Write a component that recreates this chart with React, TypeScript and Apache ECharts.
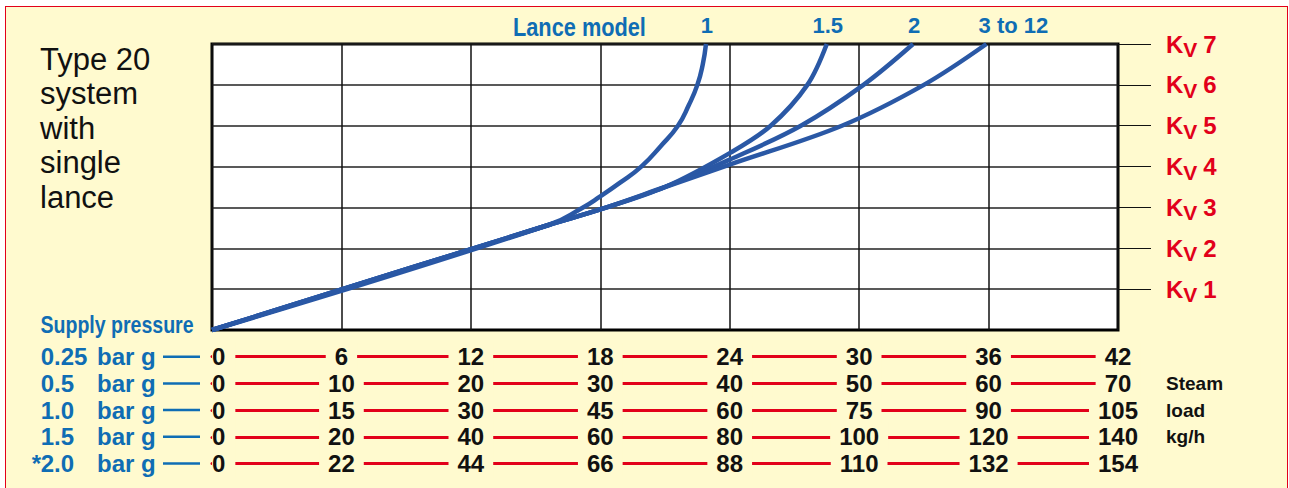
import React, { useEffect, useRef } from 'react';
import * as echarts from 'echarts';

// ---------- data ----------
const TITLE_LINES = ['Type 20', 'system', 'with', 'single', 'lance'];
const KV_TICKS = [1, 2, 3, 4, 5, 6, 7];
const PRESSURES = ['0.25', '0.5', '1.0', '1.5', '*2.0'];
const PRESSURE_UNIT = 'bar g';
const LOAD_025 = [0, 6, 12, 18, 24, 30, 36, 42];
const LOAD_05 = [0, 10, 20, 30, 40, 50, 60, 70];
const LOAD_10 = [0, 15, 30, 45, 60, 75, 90, 105];
const LOAD_15 = [0, 20, 40, 60, 80, 100, 120, 140];
const LOAD_20 = [0, 22, 44, 66, 88, 110, 132, 154];
const LOAD_ROWS = [LOAD_025, LOAD_05, LOAD_10, LOAD_15, LOAD_20];
const UNIT_LINES = ['Steam', 'load', 'kg/h'];

const LANCE_NAMES = ['1', '1.5', '2', '3 to 12'];
// [steam load kg/h at 0.25 bar g, Kv]
const LANCE_1 = [[0, 0], [15.6, 2.57], [17.2, 3], [18, 3.27], [18.9, 3.6], [19.9, 4], [20.8, 4.5], [21.6, 5], [22.1, 5.5], [22.5, 6], [22.75, 6.5], [22.9, 7]];
const LANCE_15 = [[0, 0], [15.6, 2.57], [18, 2.95], [21, 3.5], [24, 4.33], [25.9, 5], [27.6, 6], [28.5, 7]];
const LANCE_2 = [[0, 0], [15.6, 2.57], [18, 2.95], [21, 3.5], [24, 4.17], [27.3, 5], [30.2, 6], [32.5, 7]];
const LANCE_3_12 = [[0, 0], [15.6, 2.57], [18, 2.95], [21, 3.5], [24, 4.05], [29.2, 5], [33, 6], [35.9, 7]];
const LANCES = [LANCE_1, LANCE_15, LANCE_2, LANCE_3_12];

// ---------- style ----------
const BG = '#FFFACF';
const RED = '#E2001A';
const TEXT_BLUE = '#0F6DB4';
const LINE_BLUE = '#2A58A5';
const SANS = "'Liberation Sans', Arial, Helvetica, sans-serif";

const GRID_LEFT = 212;
const GRID_RIGHT_X = 1118;
const GRID_TOP = 44;
const GRID_BOTTOM_Y = 330;
const ROW_GAP = 26.7;

export default function App() {
  const ref = useRef<HTMLDivElement>(null);

  useEffect(() => {
    if (!ref.current) return;
    const chart = echarts.init(ref.current, undefined, { renderer: 'svg' });

    const numFont = { fontFamily: SANS, fontWeight: 'bold' as const, fontSize: 24, color: '#111' };

    const xAxes = LOAD_ROWS.map((ticks, i) => ({
      type: 'value',
      gridIndex: 0,
      position: 'bottom',
      offset: ROW_GAP * (i + 1),
      min: ticks[0],
      max: ticks[ticks.length - 1],
      interval: ticks[1] - ticks[0],
      axisLine: { show: true, onZero: false, lineStyle: { color: RED, width: 3 } },
      axisTick: { show: false },
      splitLine: { show: i === 0, lineStyle: { color: '#111', width: 1.5 } },
      axisLabel: {
        show: true,
        margin: 0,
        verticalAlign: 'middle',
        alignMinLabel: 'left',
        formatter: (v: number) => (v === ticks[0] ? `{z|${v}}` : `{n|${v}}`),
        rich: {
          z: { ...numFont, backgroundColor: BG, padding: [2, 10, 2, 0] },
          n: { ...numFont, backgroundColor: BG, padding: [2, 9, 2, 9] },
        },
      },
    }));

    const kvStyle = { fontFamily: SANS, fontWeight: 'bold' as const, color: RED };

    const series = LANCES.map((pts, i) => ({
      type: 'line',
      name: LANCE_NAMES[i],
      xAxisIndex: 0,
      yAxisIndex: 0,
      smooth: i === 0 ? 0.5 : 0.35,
      symbol: 'none',
      showSymbol: true,
      clip: false,
      lineStyle: { color: LINE_BLUE, width: 4.5 },
      itemStyle: { color: LINE_BLUE },
      z: 3,
      data: pts.map((p, j) =>
        j === pts.length - 1
          ? {
              value: p,
              symbol: 'circle',
              symbolSize: 0.1,
              label: {
                show: true,
                position: 'top',
                distance: 7,
                offset: [i === 3 ? 27 : 1, 0],
                formatter: LANCE_NAMES[i],
                fontFamily: SANS,
                fontWeight: 'bold',
                fontSize: 22,
                color: TEXT_BLUE,
              },
            }
          : p
      ),
    }));

    const graphic: any[] = [
      {
        type: 'text',
        x: 40,
        y: 42,
        style: {
          text: TITLE_LINES.join('\n'),
          fontFamily: SANS,
          fontSize: 31,
          lineHeight: 34.5,
          fill: '#111',
          align: 'left',
          verticalAlign: 'top',
        },
      },
      {
        type: 'text',
        x: 513,
        y: 27,
        scaleX: 0.87,
        style: {
          text: 'Lance model',
          fontFamily: SANS,
          fontWeight: 'bold',
          fontSize: 25,
          fill: TEXT_BLUE,
          align: 'left',
          verticalAlign: 'middle',
        },
      },
      {
        type: 'text',
        x: 40.5,
        y: 325,
        scaleX: 0.85,
        style: {
          text: 'Supply pressure',
          fontFamily: SANS,
          fontWeight: 'bold',
          fontSize: 23,
          fill: TEXT_BLUE,
          align: 'left',
          verticalAlign: 'middle',
        },
      },
      {
        type: 'text',
        x: 1166,
        y: GRID_BOTTOM_Y + ROW_GAP * 3,
        style: {
          text: UNIT_LINES.join('\n'),
          fontFamily: SANS,
          fontWeight: 'bold',
          fontSize: 19,
          lineHeight: ROW_GAP,
          fill: '#111',
          align: 'left',
          verticalAlign: 'middle',
        },
      },
    ];

    PRESSURES.forEach((p, i) => {
      const y = GRID_BOTTOM_Y + ROW_GAP * (i + 1);
      const hasStar = p.startsWith('*');
      const num = p.replace('*', '');
      const font = { fontFamily: SANS, fontWeight: 'bold', fontSize: 24, fill: TEXT_BLUE, verticalAlign: 'middle' };
      if (hasStar) {
        graphic.push({ type: 'text', x: 41, y, style: { text: '*', ...font, align: 'right' } });
      }
      graphic.push({ type: 'text', x: 40.7, y, style: { text: num, ...font, align: 'left' } });
      graphic.push({ type: 'text', x: 97, y, style: { text: PRESSURE_UNIT, ...font, align: 'left' } });
      graphic.push({
        type: 'line',
        shape: { x1: 163, y1: y, x2: 200, y2: y },
        style: { stroke: TEXT_BLUE, lineWidth: 2.5 },
      });
    });

    chart.setOption({
      animation: false,
      backgroundColor: 'transparent',
      grid: {
        left: GRID_LEFT,
        right: 1289 - GRID_RIGHT_X,
        top: GRID_TOP,
        bottom: 488 - GRID_BOTTOM_Y,
        show: true,
        backgroundColor: '#ffffff',
        borderColor: '#000',
        borderWidth: 3,
        containLabel: false,
      },
      xAxis: xAxes,
      yAxis: {
        type: 'value',
        position: 'right',
        min: 0,
        max: 7,
        interval: 1,
        axisLine: { show: false, onZero: false },
        axisTick: { show: true, customValues: KV_TICKS, length: 33, lineStyle: { color: '#111', width: 1.2 } },
        splitLine: { show: true, lineStyle: { color: '#222', width: 1.5 } },
        axisLabel: {
          show: true,
          customValues: KV_TICKS,
          margin: 48,
          formatter: (v: number) => `{k|K}{v|V}{n|${v}}`,
          rich: {
            k: { ...kvStyle, fontSize: 24, lineHeight: 32, verticalAlign: 'middle' },
            v: { ...kvStyle, fontSize: 21, lineHeight: 32, verticalAlign: 'bottom' },
            n: { ...kvStyle, fontSize: 24, lineHeight: 32, verticalAlign: 'middle', padding: [0, 0, 0, 6] },
          },
        },
      },
      graphic,
      series,
    } as any);

    return () => chart.dispose();
  }, []);

  return (
    <div style={{ position: 'fixed', left: 0, top: 0, width: 1289, height: 488, background: '#fff', overflow: 'hidden' }}>
      <div
        style={{
          position: 'absolute',
          left: 5,
          top: 6,
          width: 1283,
          height: 490,
          background: BG,
          borderLeft: `1px solid ${RED}`,
          borderTop: `1px solid ${RED}`,
          borderRight: `1px solid ${RED}`,
          boxSizing: 'border-box',
        }}
      />
      <div ref={ref} style={{ position: 'absolute', left: 0, top: 0, width: 1289, height: 488 }} />
    </div>
  );
}
